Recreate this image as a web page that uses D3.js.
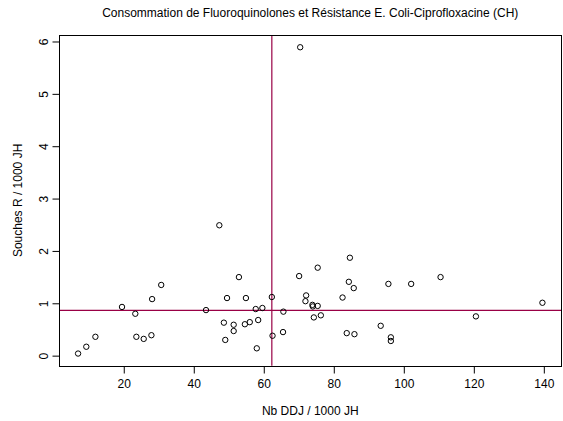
<!DOCTYPE html>
<html>
<head>
  <meta charset="UTF-8">
	<style>
	body { margin: 0; background: white; }
	svg { display: block; font-family: 'Liberation Sans', Arial, sans-serif; }
	#points circle { fill: none; stroke: black; stroke-width: 1px; }
	.refline { stroke: #990045; stroke-width: 1.2px; }
	.tick line { stroke: black; }
	</style>
</head>
<body>
<script src="https://d3js.org/d3.v7.min.js"></script>
<script>
	let width = 563,
		height = 421;

	// Nb DDJ / 1000 JH (x) and Souches R / 1000 JH (y), one entry per point
	let ddj = [6.95, 9.3, 11.9, 19.5, 23.3, 23.6, 25.7, 27.9, 28.1, 30.7,
		43.5, 47.3, 49.5, 48.6, 49.0, 51.4, 51.4, 52.9, 54.9, 54.6,
		56.0, 57.7, 58.4, 59.6, 58.0, 62.3, 62.5, 65.6, 65.5, 70.1,
		70.4, 72.1, 71.9, 73.9, 74.0, 75.4, 74.3, 76.3, 75.4, 82.5,
		84.3, 85.7, 84.6, 83.7, 85.9, 93.4, 95.6, 96.3, 96.3, 102.1,
		110.5, 120.6, 139.6];
	let souches = [0.04, 0.17, 0.36, 0.93, 0.80, 0.36, 0.32, 0.39, 1.08, 1.35,
		0.87, 2.49, 1.10, 0.63, 0.30, 0.59, 0.47, 1.50, 1.10, 0.60,
		0.64, 0.89, 0.68, 0.91, 0.14, 1.12, 0.38, 0.84, 0.45, 1.52,
		5.89, 1.15, 1.04, 0.97, 0.94, 0.95, 0.73, 0.77, 1.68, 1.11,
		1.41, 1.29, 1.87, 0.43, 0.41, 0.57, 1.37, 0.35, 0.28, 1.37,
		1.50, 0.75, 1.01];

	// reference lines (vertical / horizontal)
	let refX = 62.3,
		refY = 0.866;

	let xTicks = [20, 40, 60, 80, 100, 120, 140];
	let yTicks = [0, 1, 2, 3, 4, 5, 6];

	let pLeft = 59.5, pRight = 561, pTop = 35, pBottom = 365.8;

	// R style 4% padding on the data range
	function pad(ext) {
		let d = (ext[1] - ext[0]) * 0.04;
		return [ext[0] - d, ext[1] + d];
	}

	let x = d3.scaleLinear().domain(pad(d3.extent(ddj))).range([pLeft, pRight]);
	let y = d3.scaleLinear().domain(pad(d3.extent(souches))).range([pBottom, pTop]);

	let svg = d3.select("body").append("svg")
		.attr("width", width)
		.attr("height", height);

	svg.append("rect")
		.attr("width", width)
		.attr("height", height)
		.attr("fill", "white");

	svg.append("text")
		.attr("x", (pLeft + pRight) / 2)
		.attr("y", 17)
		.attr("text-anchor", "middle")
		.attr("font-size", "12px")
		.text("Consommation de Fluoroquinolones et Résistance E. Coli-Ciprofloxacine (CH)");

	//x axis
	let xAxis = svg.append("g")
		.attr("transform", "translate(0," + Math.round(pBottom) + ".5)")
		.call(d3.axisBottom(x).tickValues(xTicks).tickSize(7).tickPadding(6).tickFormat(d3.format("d")));
	xAxis.select(".domain").remove();
	xAxis.selectAll("text").attr("font-size", "12px").attr("fill", "black").attr("font-family", null);

	//y axis, labels rotated like R
	let yAxis = svg.append("g")
		.attr("transform", "translate(" + Math.floor(pLeft) + ".5,0)")
		.call(d3.axisLeft(y).tickValues(yTicks).tickSize(7).tickFormat(d3.format("d")));
	yAxis.select(".domain").remove();
	yAxis.selectAll("text")
		.attr("font-size", "12px")
		.attr("fill", "black")
		.attr("font-family", null)
		.attr("x", null)
		.attr("dy", null)
		.attr("text-anchor", "middle")
		.attr("transform", "translate(-12,0) rotate(-90)");

	svg.append("text")
		.attr("x", (pLeft + pRight) / 2)
		.attr("y", 415)
		.attr("text-anchor", "middle")
		.attr("font-size", "12px")
		.text("Nb DDJ / 1000 JH");

	svg.append("text")
		.attr("transform", "translate(22," + ((pTop + pBottom) / 2) + ") rotate(-90)")
		.attr("text-anchor", "middle")
		.attr("font-size", "12px")
		.text("Souches R / 1000 JH");

	//reference lines
	svg.append("line")
		.attr("class", "refline")
		.attr("x1", x(refX)).attr("x2", x(refX))
		.attr("y1", pTop).attr("y2", pBottom);
	svg.append("line")
		.attr("class", "refline")
		.attr("x1", pLeft).attr("x2", pRight)
		.attr("y1", y(refY)).attr("y2", y(refY));

	svg.append("g")
		.attr("id", "points")
		.selectAll("circle")
		.data(ddj)
		.enter()
		.append("circle")
		.attr("cx", d => x(d))
		.attr("cy", (d, i) => y(souches[i]))
		.attr("r", 2.7);

	//plot box
	svg.append("rect")
		.attr("x", Math.floor(pLeft) + 0.5)
		.attr("y", Math.floor(pTop) + 0.5)
		.attr("width", Math.round(pRight - pLeft))
		.attr("height", Math.round(pBottom - pTop))
		.attr("fill", "none")
		.attr("stroke", "black");
</script>
</body>
</html>
